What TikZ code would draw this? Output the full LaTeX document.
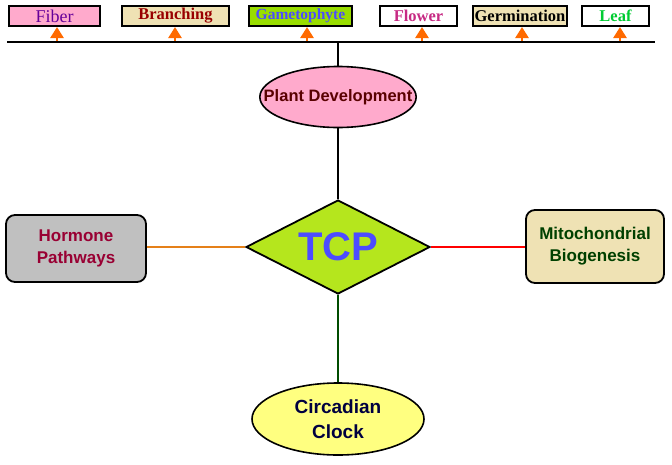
\documentclass[tikz,border=0pt]{standalone}
\usepackage{fontspec}
\setmainfont{Liberation Serif}
\setsansfont{Liberation Sans}
\usepackage{tikz}
\usetikzlibrary{shapes.geometric, arrows.meta, positioning}
\definecolor{tcpgreen}{HTML}{B5E61D}
\definecolor{pinkfill}{HTML}{FFAACC}
\definecolor{wheatfill}{HTML}{EFE2B4}
\definecolor{gamegreen}{HTML}{99DD00}
\definecolor{greyfill}{HTML}{C0C0C0}
\definecolor{yellowfill}{HTML}{FFFF80}
\definecolor{arroworange}{HTML}{FF6A00}

\begin{document}
\begin{tikzpicture}[x=1pt, y=-1pt,
        topbox/.style={draw, line width=1.6pt, inner sep=0pt, minimum height=20pt,
            font=\fontsize{16.5}{18}\selectfont\bfseries},
        sidebox/.style={draw, line width=1.8pt, rounded corners=9pt, inner sep=0pt,
            align=center, font=\sffamily\bfseries\fontsize{17}{22}\selectfont},
        oval/.style={draw, ellipse, line width=1.6pt, inner sep=0pt, align=center,
            font=\sffamily\bfseries\fontsize{16.5}{20}\selectfont},
        uparrow/.style={arroworange, line width=2.5pt, -{Triangle[width=13pt,length=11pt]}}]
        \useasboundingbox (0,0) rectangle (672,464);

        % Top row of boxes
        \node[topbox, fill=pinkfill, text=violet!80!blue, minimum width=91pt, font=\fontsize{18}{18}\selectfont] (fiber) at (54.5,16) {Fiber};
        \node[topbox, fill=wheatfill, text=red!60!black, minimum width=107pt] (branching) at (175.5,16) {Branching};
        \node[topbox, fill=gamegreen, text=blue!70!white, minimum width=103pt, font=\fontsize{15.5}{18}\selectfont\bfseries] (gameto) at (300.5,16) {Gametophyte};
        \node[topbox, fill=white, text=magenta!60!violet, minimum width=77pt] (flower) at (418.5,16) {Flower};
        \node[topbox, fill=wheatfill, text=black, minimum width=94pt] (germ) at (520,16) {Germination};
        \node[topbox, fill=white, text=green!60!teal, minimum width=67pt] (leaf) at (615.5,16) {Leaf};

        % Horizontal bar
        \coordinate (barL) at (7,42);
        \coordinate (barR) at (655,42);
        \coordinate (barM) at (338,42);
        \draw[line width=2.4pt] (barL) -- (barR);

        % Little arrows up to the boxes
        \draw[uparrow] (57,41) -- (57,27);
        \draw[uparrow] (175,41) -- (175,27);
        \draw[uparrow] (307,41) -- (307,27);
        \draw[uparrow] (422,41) -- (422,27);
        \draw[uparrow] (522,41) -- (522,27);
        \draw[uparrow] (620,41) -- (620,27);

        % Centre
        \node[draw, diamond, fill=tcpgreen, line width=1.8pt, inner sep=0pt, aspect=1.96,
            minimum width=184pt, minimum height=94pt, text=blue!70!white,
            font=\sffamily\bfseries\fontsize{40}{44}\selectfont] (tcp) at (338,247) {TCP};

        \node[oval, fill=pinkfill, text=red!35!black, inner xsep=-19pt, minimum width=156pt, minimum height=61pt] (plant) at (338,97) {Plant Development};
        \node[oval, fill=yellowfill, text=blue!25!black, minimum width=172pt, minimum height=72pt,
            font=\sffamily\bfseries\fontsize{19}{25}\selectfont] (clock) at (338,419) {Circadian\\Clock};
        \node[sidebox, fill=greyfill, text=purple!80!black, minimum width=140pt, minimum height=67pt] (hormone) at (76,248.5) {Hormone\\Pathways};
        \node[sidebox, fill=wheatfill, text=green!25!black, minimum width=138pt, minimum height=73pt] (mito) at (595,246.5) {Mitochondrial\\Biogenesis};

        % Connectors
        \draw[line width=1.5pt] (barM) -- (plant.north);
        \draw[line width=1.5pt] (plant.south) -- (tcp.north);
        \draw[line width=1.5pt, draw=orange!60!brown] (hormone.east |- tcp.west) -- (tcp.west);
        \draw[line width=1.5pt, red] (tcp.east) -- (mito.west |- tcp.east);
        \draw[line width=1.5pt, green!30!black] (tcp.south) -- (clock.north);
    \end{tikzpicture}
\end{document}
